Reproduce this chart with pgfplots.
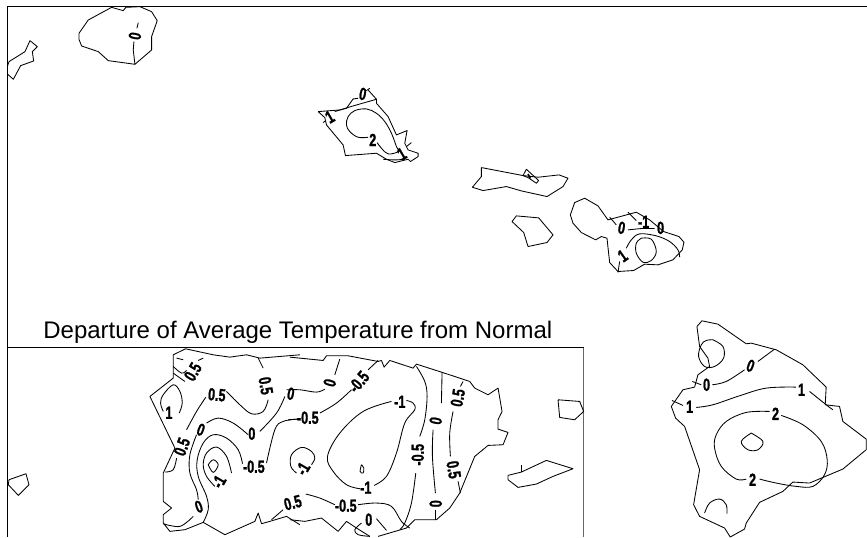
\documentclass[border=0pt]{standalone}
\usepackage{fontspec}
\setmainfont{Liberation Sans}
\newfontfamily\labfont[FakeBold=1.6]{Liberation Sans Bold}
\usepackage{pgfplots}
\pgfplotsset{compat=1.18}
\pgfplotsset{
 ln/.style={black,line width=0.85pt,forget plot,no markers,line join=round},
 zA/.style={ln,x filter/.expression={x/3},y filter/.expression={y/3}},
 zB/.style={ln,x filter/.expression={x/3+460},y filter/.expression={y/3+80}},
 zC/.style={ln,x filter/.expression={x/3},y filter/.expression={y/3+340}},
 zD/.style={ln,x filter/.expression={x/3+290},y filter/.expression={y/3+340}},
 zE/.style={ln,x filter/.expression={x/3+640},y filter/.expression={y/3+310}},
 cA/.style={zA,smooth,tension=0.6},
 cB/.style={zB,smooth,tension=0.6},
 cC/.style={zC,smooth,tension=0.6},
 cD/.style={zD,smooth,tension=0.6},
 cE/.style={zE,smooth,tension=0.6},
}
\newcommand{\lab}[4]{\node[font=\fontsize{17.5}{17.5}\labfont,inner sep=0pt,rotate=#3,xscale=0.72] at (axis cs:#1,#2) {#4};}
\begin{document}
\begin{tikzpicture}
\begin{axis}[hide axis,scale only axis,width=867pt,height=537pt,xmin=0,xmax=867,ymin=0,ymax=537,y dir=reverse,clip=false]
% page extent
\path (axis cs:0,0) rectangle (axis cs:867,537);
% frames
\addplot[ln,line width=1pt] coordinates {(867,6.5)(7.5,6.5)(7.5,537)};
\addplot[ln,line width=1pt] coordinates {(8,348)(584,348)};
\addplot[ln,line width=1.2pt,black!60] coordinates {(584,348)(584,537)};
% Kauai / Niihau
\addplot[zA] coordinates {(22,200)(27,185)(75,155)(90,122)(112,140)(97,155)(101,183)(62,197)(40,238)(22,222)};
\addplot[zA] coordinates {(237,100)(265,60)(335,22)(370,32)(378,22)(420,20)(455,35)(472,62)(455,110)(455,150)(405,193)(325,182)(295,155)(245,138)(237,118)(237,100)};
\addplot[zA] coordinates {(415,68)(411,85)};
\addplot[zA] coordinates {(402,125)(400,150)(405,193)};
% Oahu
\addplot[zA] coordinates {(955,335)(975,353)(980,375)(1030,435)(1037,467)(1130,460)(1160,478)(1185,488)(1225,478)(1232,485)(1255,470)(1255,460)(1225,450)(1215,430)(1222,392)(1190,405)(1165,350)(1130,310)(1130,298)(1105,270)};
\addplot[zA] coordinates {(955,335)(1020,330)(1040,325)(1060,297)(1075,295)};
\addplot[zA] coordinates {(1100,272)(1110,265)};
\addplot[cA] coordinates {(1005,335)(1060,318)(1130,298)};
\addplot[cA] coordinates {(1132,428)(1145,445)(1165,462)(1195,455)(1190,440)(1175,400)(1155,365)(1130,340)(1100,327)(1065,332)(1045,350)(1040,375)(1050,395)(1075,412)(1105,412)};
\addplot[cA] coordinates {(1150,478)(1185,480)(1215,478)};
\addplot[zA] coordinates {(1220,440)(1235,428)};
\addplot[zA] coordinates {(970,368)(978,362)};
% Molokai, Lanai, Maui
\addplot[zB] coordinates {(65,263)(190,287)(235,292)(298,285)(325,295)(310,320)(262,350)(185,333)(140,320)(70,332)(38,322)(65,290)(65,263)};
\addplot[zB] coordinates {(190,287)(200,268)(237,302)(230,310)(205,293)(190,287)};
\addplot[zB,line width=1.5pt] coordinates {(205,282)(212,296)};
\addplot[zB] coordinates {(157,425)(170,408)(237,414)(280,465)(262,488)(205,500)(192,458)(157,425)};
\addplot[zB] coordinates {(332,405)(345,368)(375,355)(415,378)(445,420)(530,397)(570,420)(612,455)(658,470)(673,487)(668,510)(640,540)(595,555)(555,553)(522,572)(475,575)(450,548)(442,475)(425,470)(408,480)(365,458)(340,430)(332,405)};
\addplot[zB] coordinates {(450,412)(470,435)};
\addplot[zB] coordinates {(505,450)(545,446)(585,446)};
\addplot[zB] coordinates {(505,397)(530,422)};
\addplot[cB] coordinates {(500,505)(515,480)(540,462)(590,468)(630,485)(655,510)(660,532)};
\addplot[zB] coordinates {(480,545)(475,578)};
\addplot[cB] coordinates {(545,475)(575,478)(590,515)(575,542)(550,547)(530,520)(530,490)(545,475)};
% Puerto Rico, west crop
\addplot[zC] coordinates {(27,420)(78,402)(87,435)(55,467)(25,435)(27,420)};
\addplot[zC] coordinates {(900,45)(780,55)(740,45)(690,52)(640,45)(557,27)(520,45)(520,115)(450,170)(525,325)(490,400)(490,485)(515,505)(490,525)(490,550)(510,575)(555,570)(610,548)(675,585)(765,545)(775,520)(785,552)(810,545)(860,530)(900,555)};
\addplot[zC] coordinates {(530,55)(550,60)};
\addplot[cC] coordinates {(520,80)(545,100)(560,92)};
\addplot[zC] coordinates {(520,100)(555,125)};
\addplot[zC] coordinates {(595,62)(610,55)};
\addplot[cC] coordinates {(490,215)(482,190)(490,165)(520,135)(540,155)(547,190)(538,220)};
\addplot[cC] coordinates {(680,155)(720,195)(755,222)(790,215)(805,180)};
\addplot[cC] coordinates {(618,172)(590,215)(560,270)};
\addplot[cC] coordinates {(530,355)(520,390)(495,397)};
\addplot[cC] coordinates {(775,55)(790,85)};
\addplot[cC] coordinates {(620,250)(655,235)(700,250)(745,285)};
\addplot[cC] coordinates {(780,275)(830,220)(855,170)};
\addplot[cC] coordinates {(590,285)(570,345)(570,400)(590,450)(595,480)};
\addplot[cC] coordinates {(580,530)(540,560)(490,552)};
\addplot[cC] coordinates {(728,372)(715,330)(680,295)(640,285)(610,310)(592,360)(595,410)(620,470)(625,510)(610,548)};
\addplot[cC] coordinates {(645,440)(620,410)(610,375)(620,340)(650,322)(680,350)(695,400)};
\addplot[cC] coordinates {(625,375)(640,360)(655,375)(640,398)(625,375)};
\addplot[cC] coordinates {(800,370)(825,270)(850,245)(895,238)};
\addplot[cC] coordinates {(815,540)(850,510)};
% Puerto Rico, east crop
\addplot[zD] coordinates {(0,52)(100,62)(110,48)(175,48)(265,65)(275,62)(283,82)(300,62)(370,85)(380,73)(455,97)(540,125)(555,145)(595,165)(625,145)(637,215)(625,240)(625,268)(655,278)(640,315)(595,317)(555,350)(510,460)(480,505)(440,540)(375,540)(350,565)(265,590)};
\addplot[zD] coordinates {(0,540)(45,545)(95,535)(145,575)(170,545)(200,565)(240,590)};
\addplot[cD] coordinates {(-10,150)(30,150)(80,157)(105,148)};
\addplot[cD] coordinates {(135,105)(150,58)};
\addplot[cD] coordinates {(-5,240)(25,238)};
\addplot[cD] coordinates {(90,220)(140,190)(185,150)};
\addplot[cD] coordinates {(235,90)(265,62)};
\addplot[cD] coordinates {(65,375)(75,355)(65,335)(35,323)(5,345)(3,380)(20,400)};
\addplot[cD] coordinates {(305,185)(220,215)(150,280)(113,350)(130,395)(170,435)(210,447)};
\addplot[cD] coordinates {(253,437)(290,410)(320,340)(345,250)(375,210)(370,190)(350,182)};
\addplot[cD] coordinates {(215,375)(222,385)(220,400)(211,395)(215,375)};
\addplot[cD] coordinates {(48,463)(90,475)(135,495)};
\addplot[cD] coordinates {(205,495)(260,490)(305,500)(335,545)(360,565)};
\addplot[cD] coordinates {(215,550)(195,570)(205,585)(240,590)};
\addplot[cD] coordinates {(260,537)(290,572)};
\addplot[cD] coordinates {(380,80)(405,125)(412,170)(405,240)(390,290)};
\addplot[cD] coordinates {(378,400)(365,490)(345,550)(330,570)};
\addplot[cD] coordinates {(457,97)(455,190)};
\addplot[cD] coordinates {(430,270)(428,350)(437,460)};
\addplot[cD] coordinates {(437,510)(437,540)};
\addplot[cD] coordinates {(520,125)(512,140)};
\addplot[cD] coordinates {(490,215)(480,280)(482,350)};
\addplot[cD] coordinates {(505,425)(512,460)};
\addplot[zD] coordinates {(805,180)(870,185)(882,215)(855,240)(810,233)(805,180)};
\addplot[zD] coordinates {(655,407)(695,397)(770,362)(850,387)(790,410)(740,433)(685,443)(655,420)(655,407)};
\addplot[zD] coordinates {(695,397)(695,375)};
% Big Island
\addplot[zE] coordinates {(172,50)(187,33)(235,43)(320,102)(335,100)(410,120)(490,165)(560,232)(557,285)(600,290)(610,335)(680,388)(680,420)(610,478)(510,520)(460,517)(430,545)(360,578)(320,640)(315,658)(272,682)(255,655)(180,620)(162,585)(180,480)(135,350)(108,325)(95,290)(130,240)(165,232)(175,195)(210,170)(205,145)(180,110)(172,50)};
\addplot[cE] coordinates {(220,90)(250,110)(252,145)(225,170)(195,170)(177,140)(185,105)(200,92)(220,90)};
\addplot[cE] coordinates {(158,215)(185,225)};
\addplot[cE] coordinates {(218,225)(260,215)(315,180)};
\addplot[cE] coordinates {(355,155)(405,118)};
\addplot[cE] coordinates {(97,272)(130,287)};
\addplot[cE] coordinates {(170,293)(220,285)(300,258)(380,235)(470,232)};
\addplot[cE] coordinates {(510,245)(560,285)(580,300)};
\addplot[cE] coordinates {(390,305)(320,308)(260,335)(230,375)(225,415)(245,470)(290,508)(320,508)};
\addplot[cE] coordinates {(360,508)(410,520)(470,530)(520,530)(555,495)(563,450)(545,395)(490,345)(425,317)};
\addplot[cE] coordinates {(335,370)(370,395)(355,420)(325,420)(305,395)(335,370)};
\addplot[cE] coordinates {(195,610)(210,580)(240,568)(260,585)(262,612)};
% title
\node[font=\fontsize{24}{24}\selectfont,inner sep=0pt,anchor=base] at (axis cs:298,339) {Departure of Average Temperature from Normal};
% labels
\lab{135}{36}{80}{0}
\lab{330}{117}{30}{1}
\lab{363}{94}{-10}{0}
\lab{373}{140}{0}{2}
\lab{402}{154}{30}{1}
\lab{622}{228}{-10}{0}
\lab{644}{222}{0}{-1}
\lab{661}{228}{0}{0}
\lab{623}{256}{35}{1}
\lab{193}{372}{60}{0.5}
\lab{266}{386}{-80}{0.5}
\lab{217}{395}{-5}{0.5}
\lab{291}{394}{-10}{0}
\lab{169}{413}{0}{1}
\lab{201}{430}{-20}{0}
\lab{252}{434}{0}{0}
\lab{182}{447}{70}{0.5}
\lab{254}{467}{0}{-0.5}
\lab{219}{482}{60}{-1}
\lab{199}{507}{20}{0}
\lab{293}{503}{15}{0.5}
\lab{330}{383}{75}{0}
\lab{359}{382}{50}{-0.5}
\lab{400}{402}{0}{-1}
\lab{308}{418}{0}{-0.5}
\lab{303}{469}{60}{-1}
\lab{366}{488}{0}{-1}
\lab{346}{506}{0}{-0.5}
\lab{369}{520}{0}{0}
\lab{458}{398}{80}{0.5}
\lab{436}{421}{80}{0}
\lab{418}{455}{90}{-0.5}
\lab{454}{470}{-80}{0.5}
\lab{436}{504}{90}{0}
\lab{707}{385}{0}{0}
\lab{751}{366}{-20}{0}
\lab{690}{407}{0}{1}
\lab{802}{390}{0}{1}
\lab{776}{414}{0}{2}
\lab{753}{480}{0}{2}
\end{axis}
\end{tikzpicture}
\end{document}
